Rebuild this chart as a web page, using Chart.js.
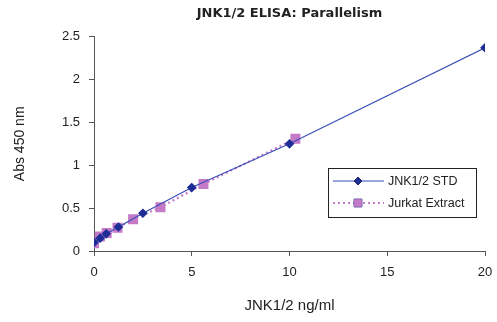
<!DOCTYPE html>
<html lang="en">
<head>
<meta charset="UTF-8">
<title>JNK1/2 ELISA: Parallelism</title>
<script src="https://cdn.jsdelivr.net/npm/chart.js"></script>
<style>
  body { margin: 0; padding: 0; background: #ffffff; }
  #wrap { width: 497px; height: 322px; position: relative; }
</style>
</head>
<body>
<div id="wrap"><canvas id="elisaChart"></canvas></div>
<script>
// values
const stdLabel = 'JNK1/2 STD';
const stdX = [0, 0.3125, 0.625, 1.25, 2.5, 5, 10, 20];
const stdY = [0.10, 0.15, 0.20, 0.28, 0.44, 0.74, 1.25, 2.37];

const jurkatLabel = 'Jurkat Extract';
const jurkatX = [0, 0.3, 0.65, 1.2, 2.0, 3.4, 5.6, 10.3];
const jurkatY = [0.09, 0.17, 0.21, 0.27, 0.37, 0.51, 0.78, 1.31];

const toPoints = (xs, ys) => xs.map((x, i) => ({ x: x, y: ys[i] }));

// legend box drawn inside the plot, like the original
const boxLegend = {
    id: 'boxLegend',
    afterDraw(chart) {
        const ctx = chart.ctx;
        const x0 = 328, y0 = 168, w = 148, h = 49;
        ctx.save();
        ctx.fillStyle = '#ffffff';
        ctx.fillRect(x0, y0, w, h);
        ctx.strokeStyle = '#222';
        ctx.lineWidth = 1;
        ctx.strokeRect(x0 + 0.5, y0 + 0.5, w, h);
        ctx.font = '12.5px Arial, "Liberation Sans", sans-serif';
        ctx.fillStyle = '#222';
        ctx.textBaseline = 'middle';
        chart.data.datasets.forEach((ds, i) => {
            const yy = y0 + 13 + i * 22;
            ctx.save();
            ctx.strokeStyle = ds.borderColor;
            ctx.lineWidth = ds.borderWidth;
            ctx.setLineDash(ds.borderDash || []);
            ctx.beginPath();
            ctx.moveTo(x0 + 5, yy);
            ctx.lineTo(x0 + 56, yy);
            ctx.stroke();
            ctx.restore();
            Chart.helpers.drawPoint(ctx, {
                pointStyle: ds.pointStyle,
                radius: ds.pointRadius,
                borderWidth: 1
            }, x0 + 30, yy);
            ctx.fillStyle = ds.pointBackgroundColor;
            ctx.strokeStyle = ds.pointBorderColor;
            ctx.fill();
            ctx.fillStyle = '#222';
            ctx.fillText(ds.label, x0 + 60, yy + 1);
        });
        ctx.restore();
    }
};

const axisFont = { family: 'Arial, "Liberation Sans", sans-serif', size: 13 };

new Chart(document.getElementById('elisaChart'), {
    type: 'line',
    data: {
        datasets: [
            {
                label: stdLabel,
                data: toPoints(stdX, stdY),
                borderColor: '#3a4fb8',
                borderWidth: 1.2,
                pointStyle: 'rectRot',
                pointRadius: 4,
                pointBackgroundColor: '#1e2d96',
                pointBorderColor: '#1e2d96',
                fill: false,
                tension: 0
            },
            {
                label: jurkatLabel,
                data: toPoints(jurkatX, jurkatY),
                borderColor: '#c77cc8',
                borderWidth: 2.2,
                borderDash: [2, 3],
                pointStyle: 'rect',
                pointRadius: 5.5,
                pointBackgroundColor: '#c47ac6',
                pointBorderColor: '#c47ac6',
                fill: false,
                tension: 0
            }
        ]
    },
    options: {
        responsive: true,
        maintainAspectRatio: false,
        animation: false,
        layout: { padding: { left: 0, right: 12, top: 0, bottom: 0 } },
        plugins: {
            legend: { display: false },
            tooltip: { enabled: false },
            title: {
                display: true,
                text: 'JNK1/2 ELISA: Parallelism',
                fullSize: false,
                color: '#222',
                font: { family: '"DejaVu Sans", Arial, sans-serif', size: 13, weight: 'bold' },
                padding: { top: 6, bottom: 15 }
            }
        },
        scales: {
            x: {
                type: 'linear',
                min: 0,
                max: 20,
                ticks: { stepSize: 5, color: '#222', font: axisFont, padding: 9 },
                grid: { drawOnChartArea: false, drawTicks: true, tickLength: 5, tickColor: '#555' },
                border: { display: true, color: '#555', width: 1 },
                title: {
                    display: true,
                    text: 'JNK1/2 ng/ml',
                    color: '#222',
                    font: { family: 'Arial, "Liberation Sans", sans-serif', size: 15 },
                    padding: { top: 0, bottom: 7 }
                },
                afterFit(scale) {
                    scale.height = 71;
                    scale.paddingRight = 0;
                }
            },
            y: {
                type: 'linear',
                min: 0,
                max: 2.5,
                ticks: {
                    stepSize: 0.5, color: '#222', font: axisFont, padding: 9,
                    callback: v => String(v)
                },
                grid: { drawOnChartArea: false, drawTicks: true, tickLength: 5, tickColor: '#555' },
                border: { display: true, color: '#555', width: 1 },
                title: {
                    display: true,
                    text: 'Abs 450 nm',
                    color: '#222',
                    font: { family: 'Arial, "Liberation Sans", sans-serif', size: 14 },
                    padding: { top: 12, bottom: 0 }
                },
                afterFit(scale) { scale.width = 94; }
            }
        }
    },
    plugins: [boxLegend]
});
</script>
</body>
</html>
